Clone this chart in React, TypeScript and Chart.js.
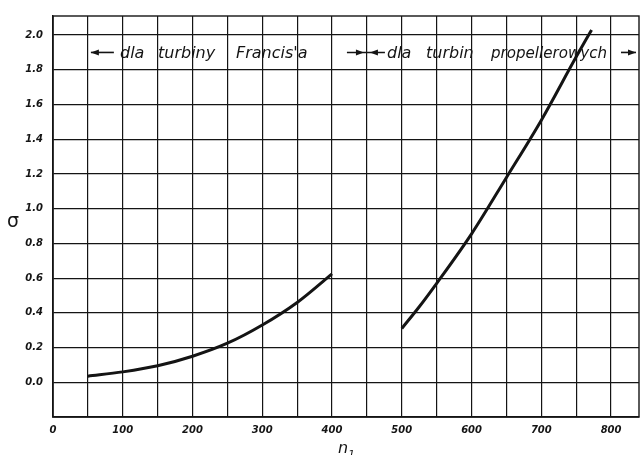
import React, { useEffect, useRef } from "react";
import { Chart, registerables } from "chart.js";

Chart.register(...registerables);

// Data
const francisN = [50, 100, 150, 200, 250, 300, 350, 400];
const francisSigma = [0.035, 0.06, 0.095, 0.15, 0.225, 0.33, 0.46, 0.625];
const propN = [500, 525, 550, 600, 650, 700, 750, 772];
const propSigma = [0.31, 0.435, 0.57, 0.855, 1.18, 1.51, 1.875, 2.03];

const xTickValues = [0, 50, 100, 150, 200, 250, 300, 350, 400, 450, 500, 550, 600, 650, 700, 750, 800];
const yTickValues = [-0.2, 0, 0.2, 0.4, 0.6, 0.8, 1.0, 1.2, 1.4, 1.6, 1.8, 2.0];

const legendFrancis = ["dla", "turbiny", "Francis'a"];
const legendProp = ["dla", "turbin", "propellerowych"];
const xTitle = "n";
const xTitleSub = "1";
const yTitle = "σ";

const INK = "#141414";
const FONT = "'DejaVu Sans', sans-serif";

function arrowHead(ctx: CanvasRenderingContext2D, x: number, y: number, dir: number) {
  ctx.beginPath();
  ctx.moveTo(x, y);
  ctx.lineTo(x - dir * 8, y - 3);
  ctx.lineTo(x - dir * 8, y + 3);
  ctx.closePath();
  ctx.fill();
}

const decorPlugin = {
  id: "decor",
  afterDraw(chart: any) {
    const ctx: CanvasRenderingContext2D = chart.ctx;
    const { chartArea } = chart;
    const xs = chart.scales.x;
    const ys = chart.scales.y;
    ctx.save();
    // frame
    ctx.strokeStyle = INK;
    ctx.lineWidth = 1.4;
    ctx.strokeRect(chartArea.left, chartArea.top, chartArea.right - chartArea.left, chartArea.bottom - chartArea.top);

    // annotations inside the top row
    const yRow = (ys.getPixelForValue(2.0) + ys.getPixelForValue(1.8)) / 2;
    ctx.fillStyle = INK;
    ctx.strokeStyle = INK;
    ctx.lineWidth = 1.6;
    ctx.font = `italic 16px ${FONT}`;
    ctx.textBaseline = "middle";
    ctx.textAlign = "left";

    // left arrow
    const xa = xs.getPixelForValue(50);
    ctx.beginPath();
    ctx.moveTo(xa + 3, yRow);
    ctx.lineTo(xa + 26, yRow);
    ctx.stroke();
    arrowHead(ctx, xa + 3, yRow, -1);

    const fPos = [120, 158, 236];
    const fW = [28, 58, 80];
    legendFrancis.forEach((w, i) => ctx.fillText(w, fPos[i], yRow + 1, fW[i]));

    // middle arrows meeting at 450
    const xm = xs.getPixelForValue(450);
    ctx.beginPath();
    ctx.moveTo(xm - 20, yRow);
    ctx.lineTo(xm + 18, yRow);
    ctx.stroke();
    arrowHead(ctx, xm - 3, yRow, 1);
    arrowHead(ctx, xm + 3, yRow, -1);

    const pPos = [387, 426, 491];
    const pW = [28, 50, 116];
    legendProp.forEach((w, i) => ctx.fillText(w, pPos[i], yRow + 1, pW[i]));

    // right arrow to the border
    const xr = chartArea.right;
    ctx.beginPath();
    ctx.moveTo(xr - 18, yRow);
    ctx.lineTo(xr - 3, yRow);
    ctx.stroke();
    arrowHead(ctx, xr - 3, yRow, 1);

    // axis titles
    ctx.font = `italic 16px ${FONT}`;
    ctx.textBaseline = "alphabetic";
    ctx.textAlign = "left";
    ctx.fillText(xTitle, 338, 453);
    ctx.font = `italic 11px ${FONT}`;
    ctx.fillText(xTitleSub, 348, 458);

    ctx.font = `19px ${FONT}`;
    ctx.textAlign = "center";
    ctx.textBaseline = "middle";
    ctx.fillText(yTitle, 13, 222);
    ctx.restore();
  },
};

export default function App() {
  const ref = useRef<HTMLCanvasElement | null>(null);

  useEffect(() => {
    if (!ref.current) return;
    const chart = new Chart(ref.current, {
      type: "scatter",
      data: {
        datasets: [
          {
            label: "Francis",
            data: francisN.map((n, i) => ({ x: n, y: francisSigma[i] })),
            showLine: true,
            borderColor: INK,
            borderWidth: 3,
            pointRadius: 0,
            cubicInterpolationMode: "monotone",
          },
          {
            label: "propeller",
            data: propN.map((n, i) => ({ x: n, y: propSigma[i] })),
            showLine: true,
            borderColor: INK,
            borderWidth: 3,
            pointRadius: 0,
            cubicInterpolationMode: "monotone",
          },
        ],
      },
      options: {
        responsive: false,
        animation: false,
        devicePixelRatio: 1,
        layout: { padding: { top: 14, right: 3, left: 0, bottom: 0 } },
        plugins: { legend: { display: false }, tooltip: { enabled: false } },
        scales: {
          x: {
            type: "linear",
            min: 0,
            max: 840,
            afterBuildTicks: (scale: any) => {
              scale.ticks = xTickValues.map((v) => ({ value: v }));
            },
            afterFit: (scale: any) => {
              scale.height = 38;
            },
            ticks: {
              autoSkip: false,
              maxRotation: 0,
              padding: 7,
              color: INK,
              font: { family: FONT, style: "italic", weight: "bold", size: 10 },
              callback: (v: any) => (Number(v) % 100 === 0 ? String(v) : ""),
            },
            grid: { color: INK, lineWidth: 1.2, drawTicks: false },
            border: { display: true, color: INK, width: 1.4 },
          },
          y: {
            type: "linear",
            min: -0.2,
            max: 2.11,
            afterBuildTicks: (scale: any) => {
              scale.ticks = yTickValues.map((v) => ({ value: v }));
            },
            afterFit: (scale: any) => {
              scale.width = 53;
            },
            ticks: {
              autoSkip: false,
              padding: 10,
              color: INK,
              font: { family: FONT, style: "italic", weight: "bold", size: 10 },
              callback: (v: any) => (Number(v) < -0.1 ? "" : Number(v).toFixed(1)),
            },
            grid: { color: INK, lineWidth: 1.2, drawTicks: false },
            border: { display: true, color: INK, width: 1.4 },
          },
        },
      },
      plugins: [decorPlugin],
    } as any);
    return () => chart.destroy();
  }, []);

  return (
    <div style={{ position: "fixed", left: 0, top: 0, width: 642, height: 455, background: "#fff" }}>
      <canvas ref={ref} width={642} height={455} style={{ width: 642, height: 455, display: "block" }} />
    </div>
  );
}
